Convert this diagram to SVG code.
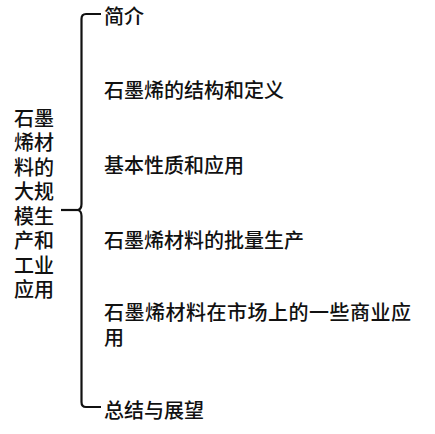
<svg xmlns="http://www.w3.org/2000/svg" width="435" height="434" viewBox="0 0 435 434">
<style>
text{font-family:"Liberation Sans","Noto Sans CJK SC",sans-serif;font-size:20px;font-weight:500;fill:#111}
.br{fill:none;stroke:#111;stroke-width:2.2}
</style>
<rect width="435" height="434" fill="#fff"/>
<g id="root">
<text x="14" y="125.5"><tspan x="14" y="125.5">石墨</tspan><tspan x="14" y="150">烯材</tspan><tspan x="14" y="174.5">料的</tspan><tspan x="14" y="199">大规</tspan><tspan x="14" y="223.5">模生</tspan><tspan x="14" y="248">产和</tspan><tspan x="14" y="272.5">工业</tspan><tspan x="14" y="297">应用</tspan></text>
</g>
<g id="connectors">
<path class="br" d="M101,14 L86,14 Q81.5,14 81.5,19 L81.5,204 Q81.5,209 78,210 Q81.5,211 81.5,216 L81.5,402 Q81.5,407 86,407 L101,407"/>
<path class="br" d="M61,210 L78,210"/>
</g>
<g id="n1"><text x="104" y="23.5">简介</text></g>
<g id="n2"><text x="104" y="97.5">石墨烯的结构和定义</text></g>
<g id="n3"><text x="104" y="172.5">基本性质和应用</text></g>
<g id="n4"><text x="104" y="247.5">石墨烯材料的批量生产</text></g>
<g id="n5"><text x="104" y="319.5"><tspan x="104" y="319.5" textLength="307">石墨烯材料在市场上的一些商业应</tspan><tspan x="104" y="344.5">用</tspan></text></g>
<g id="n6"><text x="104" y="417.5">总结与展望</text></g>
</svg>
